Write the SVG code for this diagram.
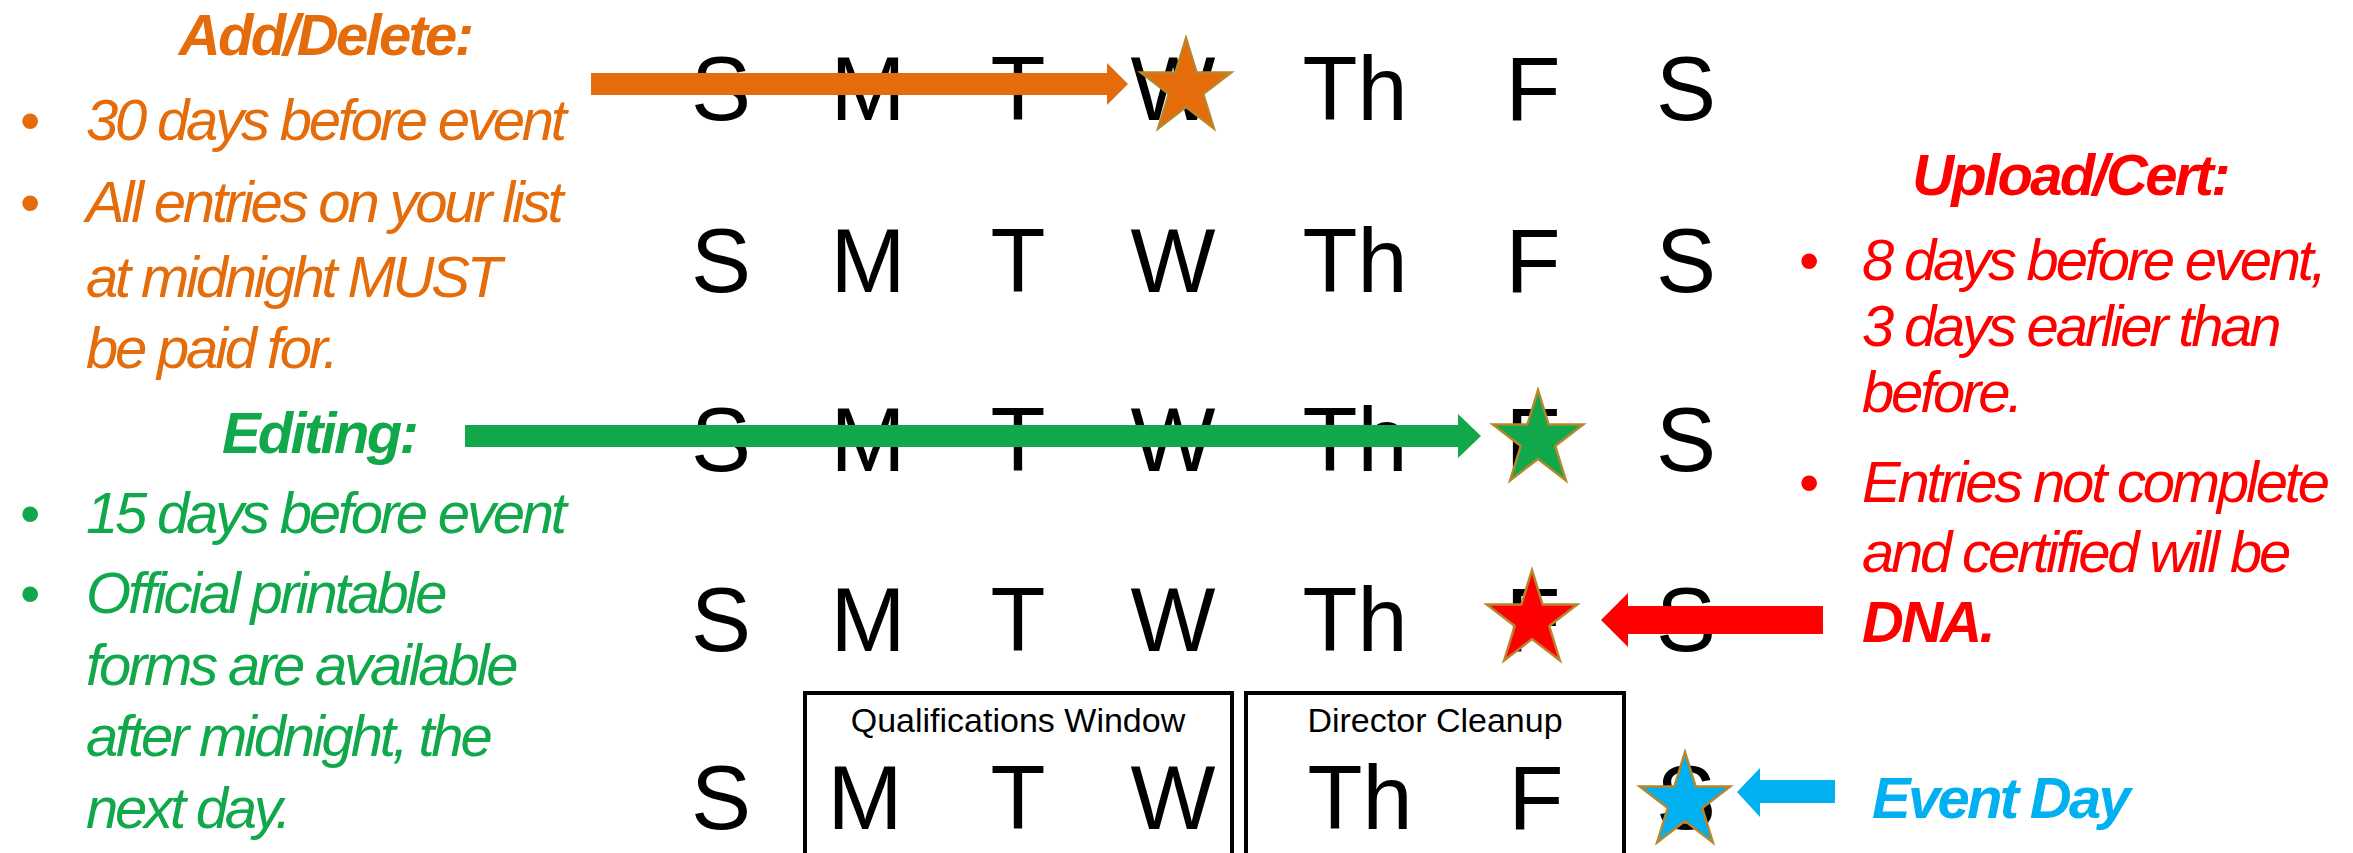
<svg xmlns="http://www.w3.org/2000/svg" width="2353" height="853" viewBox="0 0 2353 853">
<style>
  .day{font-family:"Liberation Sans",Arial,sans-serif;font-size:90px;fill:#000;text-anchor:middle}
  .body{font-family:"Liberation Sans",Arial,sans-serif;font-size:58px;font-style:italic;letter-spacing:-3.2px}
  .head{font-family:"Liberation Sans",Arial,sans-serif;font-size:58px;font-style:italic;font-weight:bold;letter-spacing:-2.7px}
  .bul{font-family:"Liberation Sans",Arial,sans-serif;font-size:58px}
  .box{fill:none;stroke:#000;stroke-width:4}
  .boxlbl{font-family:"Liberation Sans",Arial,sans-serif;font-size:34px;fill:#000;text-anchor:middle}
  .star{stroke:#B8862B;stroke-width:2.5;stroke-linejoin:miter}
  .orange{fill:#E46C0A}
  .green{fill:#10A84A}
  .red{fill:#FF0000}
  .blue{fill:#00B0F0}
</style>
<defs>
  <path id="star5" d="M0,-50 L11.23,-15.45 L47.55,-15.45 L18.16,5.9 L29.39,40.45 L0,19.1 L-29.39,40.45 L-18.16,5.9 L-47.55,-15.45 L-11.23,-15.45 Z"/>
</defs>
<rect width="2353" height="853" fill="#fff"/>

<g id="add-delete">
  <text class="head orange" x="325" y="55" text-anchor="middle">Add/Delete:</text>
  <text class="bul orange" x="20" y="140">•</text>
  <text class="body orange" x="86" y="140">30 days before event</text>
  <text class="bul orange" x="20" y="222">•</text>
  <text class="body orange" x="86" y="222">All entries on your list</text>
  <text class="body orange" x="86" y="297">at midnight MUST</text>
  <text class="body orange" x="86" y="368">be paid for.</text>
</g>

<g id="editing">
  <text class="head green" x="319" y="453" text-anchor="middle">Editing:</text>
  <text class="bul green" x="20" y="533">•</text>
  <text class="body green" x="86" y="533">15 days before event</text>
  <text class="bul green" x="20" y="613">•</text>
  <text class="body green" x="86" y="613">Official printable</text>
  <text class="body green" x="86" y="685">forms are available</text>
  <text class="body green" x="86" y="756">after midnight, the</text>
  <text class="body green" x="86" y="828">next day.</text>
</g>

<g id="upload-cert">
  <text class="head red" x="2070" y="195" text-anchor="middle">Upload/Cert:</text>
  <text class="bul red" x="1799" y="280">•</text>
  <text class="body red" x="1862" y="280">8 days before event,</text>
  <text class="body red" x="1862" y="346">3 days earlier than</text>
  <text class="body red" x="1862" y="412">before.</text>
  <text class="bul red" x="1799" y="502">•</text>
  <text class="body red" x="1862" y="502">Entries not complete</text>
  <text class="body red" x="1862" y="572">and certified will be</text>
  <text class="head red" x="1862" y="642">DNA.</text>
</g>

<g id="event-day">
  <text class="head blue" x="1872" y="818">Event Day</text>
</g>

<g id="week-1">
  <text class="day" x="721" y="120">S</text><text class="day" x="868" y="120">M</text><text class="day" x="1018" y="120">T</text><text class="day" x="1173" y="120">W</text><text class="day" x="1355" y="120">Th</text><text class="day" x="1533" y="120">F</text><text class="day" x="1686" y="120">S</text>
</g>
<g id="week-2">
  <text class="day" x="721" y="292">S</text><text class="day" x="868" y="292">M</text><text class="day" x="1018" y="292">T</text><text class="day" x="1173" y="292">W</text><text class="day" x="1355" y="292">Th</text><text class="day" x="1533" y="292">F</text><text class="day" x="1686" y="292">S</text>
</g>
<g id="week-3">
  <text class="day" x="721" y="471">S</text><text class="day" x="868" y="471">M</text><text class="day" x="1018" y="471">T</text><text class="day" x="1173" y="471">W</text><text class="day" x="1355" y="471">Th</text><text class="day" x="1533" y="471">F</text><text class="day" x="1686" y="471">S</text>
</g>
<g id="week-4">
  <text class="day" x="721" y="651">S</text><text class="day" x="868" y="651">M</text><text class="day" x="1018" y="651">T</text><text class="day" x="1173" y="651">W</text><text class="day" x="1355" y="651">Th</text><text class="day" x="1533" y="651">F</text><text class="day" x="1686" y="651">S</text>
</g>
<g id="week-5">
  <text class="day" x="721" y="829">S</text><text class="day" x="865" y="829">M</text><text class="day" x="1018" y="829">T</text><text class="day" x="1173" y="829">W</text><text class="day" x="1360" y="829">Th</text><text class="day" x="1536" y="829">F</text><text class="day" x="1686" y="829">S</text>
</g>

<g id="qualifications-window">
  <rect class="box" x="805" y="693" width="427" height="200"/>
  <text class="boxlbl" x="1018" y="732">Qualifications Window</text>
</g>
<g id="director-cleanup">
  <rect class="box" x="1246" y="693" width="378" height="200"/>
  <text class="boxlbl" x="1435" y="732">Director Cleanup</text>
</g>

<g id="connectors">
  <polygon class="orange" points="591,73 1107,73 1107,63 1128,84 1107,105 1107,95 591,95"/>
  <polygon class="green" points="465,425 1458,425 1458,414 1481,436 1458,458 1458,447 465,447"/>
  <polygon class="red" points="1823,606 1628,606 1628,593 1601,620 1628,647 1628,634 1823,634"/>
  <polygon class="blue" points="1835,780 1760,780 1760,768 1737,792 1760,817 1760,803 1835,803"/>
</g>

<g id="star-add-delete"><use href="#star5" class="star orange" transform="translate(1186,88) scale(0.95,1)"/></g>
<g id="star-editing"><use href="#star5" class="star green" transform="translate(1538,440) scale(0.95,1)"/></g>
<g id="star-upload"><use href="#star5" class="star red" transform="translate(1532,620) scale(0.95,1)"/></g>
<g id="star-event"><use href="#star5" class="star blue" transform="translate(1685,802) scale(0.95,1)"/></g>
</svg>
